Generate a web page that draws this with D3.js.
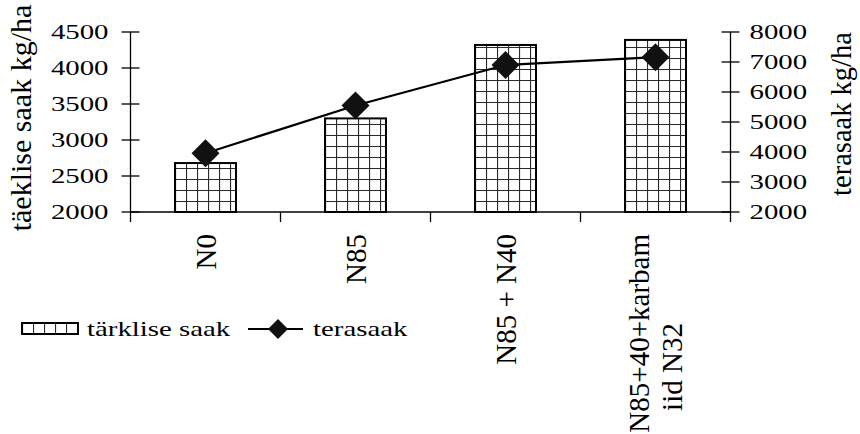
<!DOCTYPE html>
<html>
<head>
<meta charset="utf-8">
<script src="https://cdn.jsdelivr.net/npm/d3@7"></script>
<style>
  html, body { margin: 0; padding: 0; background: #fff; }
  svg { display: block; }
  text { font-family: "Liberation Serif", "Times New Roman", Times, serif; fill: #000; }
</style>
</head>
<body>
<svg id="chart" width="860" height="434"></svg>
<script>
// Fertiliser variants and yields (kg/ha)
const categories = ["N0", "N85", "N85 + N40", "N85+40+karbamiid N32"];
const categoryLines = [["N0"], ["N85"], ["N85 + N40"], ["N85+40+karbam", "iid N32"]];
const starchYield = [2680, 3300, 4320, 4390];   // bars, left axis
const grainYield = [3960, 5550, 6900, 7160];    // line, right axis
const leftTicks = [2000, 2500, 3000, 3500, 4000, 4500];
const rightTicks = [2000, 3000, 4000, 5000, 6000, 7000, 8000];
const seriesNames = ["tärklise saak", "terasaak"];
const leftTitle = "täeklise saak kg/ha";
const rightTitle = "terasaak kg/ha";

const svg = d3.select("#chart");
const plot = { left: 130.5, right: 730.5, top: 32, bottom: 212 };
const stretch = 1.31;      // horizontal labels are drawn wide
const tickFont = 22;
const rotFont = 29;
const barW = 61;
const cell = 11;

const x = d3.scaleBand().domain(categories).range([plot.left, plot.right]);
const yL = d3.scaleLinear().domain([2000, 4500]).range([plot.bottom, plot.top]);
const yR = d3.scaleLinear().domain([2000, 8000]).range([plot.bottom, plot.top]);
const cx = c => x(c) + x.bandwidth() / 2;
const diamond = h => `M0,${-h}L${h},0L0,${h}L${-h},0Z`;

svg.append("rect").attr("width", 860).attr("height", 434).attr("fill", "#fff");

// grid-hatch patterns, one per bar plus one for the legend swatch
const defs = svg.append("defs");
function gridPattern(id, px, py) {
  const p = defs.append("pattern").attr("id", id)
    .attr("patternUnits", "userSpaceOnUse")
    .attr("x", px).attr("y", py)
    .attr("width", cell).attr("height", cell);
  p.append("rect").attr("width", cell).attr("height", cell).attr("fill", "#fff");
  p.append("path").attr("d", `M0,0.5H${cell}M0.5,0V${cell}`)
    .attr("stroke", "#2a2a2a").attr("stroke-width", 1.2).attr("fill", "none");
}
categories.forEach((c, i) => gridPattern("grid" + i, cx(c) - barW / 2, plot.bottom));

// bars
svg.append("g").selectAll("rect").data(starchYield).join("rect")
  .attr("x", (d, i) => cx(categories[i]) - barW / 2)
  .attr("y", d => yL(d))
  .attr("width", barW)
  .attr("height", d => plot.bottom - yL(d))
  .attr("fill", (d, i) => `url(#grid${i})`)
  .attr("stroke", "#000").attr("stroke-width", 2);

// axes
const axes = svg.append("g").attr("stroke", "#000").attr("stroke-width", 1.3);
axes.append("line").attr("x1", plot.left).attr("x2", plot.right)
  .attr("y1", plot.bottom).attr("y2", plot.bottom);
axes.append("line").attr("x1", plot.left).attr("x2", plot.left)
  .attr("y1", yL(4500)).attr("y2", plot.bottom);
axes.append("line").attr("x1", plot.right).attr("x2", plot.right)
  .attr("y1", yR(8000)).attr("y2", plot.bottom);
// category boundary ticks
const bounds = categories.map(c => x(c)).concat([plot.right]);
axes.selectAll(".xt").data(bounds).join("line")
  .attr("x1", d => d).attr("x2", d => d)
  .attr("y1", plot.bottom).attr("y2", plot.bottom + 10);
axes.selectAll(".lt").data(leftTicks).join("line")
  .attr("x1", plot.left - 9).attr("x2", plot.left + 9)
  .attr("y1", d => yL(d)).attr("y2", d => yL(d));
axes.selectAll(".rt").data(rightTicks).join("line")
  .attr("x1", plot.right - 9).attr("x2", plot.right + 9)
  .attr("y1", d => yR(d)).attr("y2", d => yR(d));

// tick labels
function wideText(parent, tx, ty, str, anchor, size) {
  parent.append("text")
    .attr("transform", `translate(${tx},${ty}) scale(${stretch},1)`)
    .attr("text-anchor", anchor).attr("dy", "0.34em")
    .style("font-size", size + "px").text(str);
}
const labels = svg.append("g");
leftTicks.forEach(v => wideText(labels, plot.left - 22, yL(v), v, "end", tickFont));
rightTicks.forEach(v => wideText(labels, plot.right + 19, yR(v), v, "start", tickFont));

// axis titles
svg.append("text")
  .attr("transform", `translate(31,${(plot.top + plot.bottom) / 2 - 4}) rotate(-90)`)
  .attr("text-anchor", "middle").style("font-size", "30px").text(leftTitle);
svg.append("text")
  .attr("transform", `translate(851,${(plot.top + plot.bottom) / 2 - 8}) rotate(-90)`)
  .attr("text-anchor", "middle").style("font-size", "28.5px").text(rightTitle);

// category labels, rotated
const lineH = 33;
categories.forEach((c, i) => {
  const lines = categoryLines[i];
  const g = svg.append("g")
    .attr("transform", `translate(${cx(c)},${plot.bottom + 22}) rotate(-90)`);
  lines.forEach((t, k) => {
    const off = (k - (lines.length - 1) / 2) * lineH;
    g.append("text")
      .attr("x", k === 0 ? 0 : -133)
      .attr("y", off)
      .attr("dy", "0.35em")
      .attr("text-anchor", k === 0 ? "end" : "middle")
      .style("font-size", rotFont + "px")
      .text(t);
  });
});

// grain yield line with diamond markers
const line = d3.line().x((d, i) => cx(categories[i])).y(d => yR(d));
svg.append("path").datum(grainYield).attr("d", line)
  .attr("fill", "none").attr("stroke", "#000").attr("stroke-width", 2.2);
svg.append("g").selectAll("path").data(grainYield).join("path")
  .attr("transform", (d, i) => `translate(${cx(categories[i])},${yR(d)})`)
  .attr("d", diamond(14)).attr("fill", "#111");

// legend
const leg = svg.append("g");
const legY = 329;
const sw = { x: 22, y: legY - 6, w: 56, h: 11 };
gridPattern("gridLegend", sw.x, sw.y);
leg.append("rect").attr("x", sw.x).attr("y", sw.y).attr("width", sw.w).attr("height", sw.h)
  .attr("fill", "url(#gridLegend)").attr("stroke", "#000").attr("stroke-width", 2);
wideText(leg, 87, legY, seriesNames[0], "start", tickFont);
leg.append("line").attr("x1", 248).attr("x2", 303).attr("y1", legY).attr("y2", legY)
  .attr("stroke", "#000").attr("stroke-width", 2.2);
leg.append("path").attr("transform", `translate(278,${legY})`).attr("d", diamond(10)).attr("fill", "#111");
wideText(leg, 313, legY, seriesNames[1], "start", tickFont);
</script>
</body>
</html>
